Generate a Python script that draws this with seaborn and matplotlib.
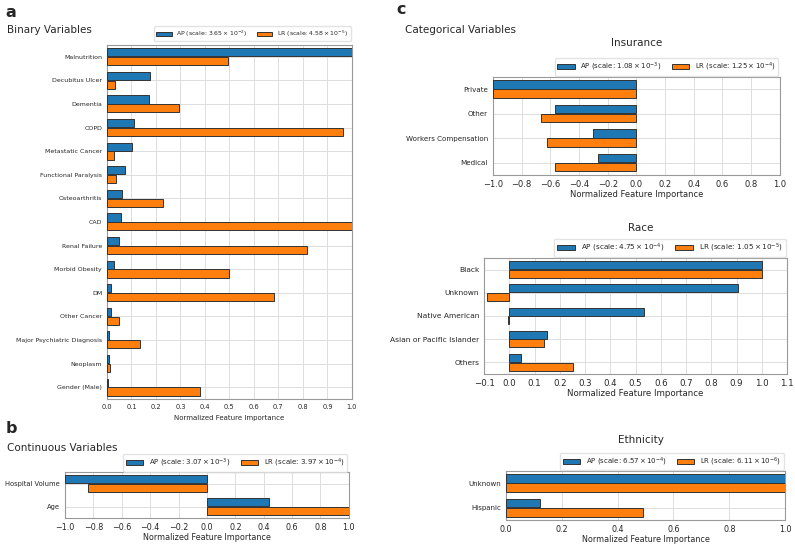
import seaborn as sns
import matplotlib.pyplot as plt
import pandas as pd

# panel a: binary variables
binary_vars = ["Malnutrition", "Decubitus Ulcer", "Dementia", "COPD", "Metastatic Cancer",
               "Functional Paralysis", "Osteoarthritis", "CAD", "Renal Failure", "Morbid Obesity",
               "DM", "Other Cancer", "Major Psychiatric Diagnosis", "Neoplasm", "Gender (Male)"]
binary_ap = [1.0, 0.175, 0.17, 0.11, 0.103, 0.074, 0.062, 0.058, 0.05, 0.027,
             0.017, 0.015, 0.01, 0.007, 0.005]
binary_lr = [0.495, 0.033, 0.293, 0.963, 0.03, 0.037, 0.228, 1.0, 0.817, 0.497,
             0.68, 0.05, 0.136, 0.013, 0.38]
binary_scales = ["3.65 \\times 10^{-2}", "4.58 \\times 10^{-5}"]

# panel b: continuous variables
cont_vars = ["Hospital Volume", "Age"]
cont_ap = [-1.0, 0.435]
cont_lr = [-0.835, 1.0]
cont_scales = ["3.07 \\times 10^{-3}", "3.97 \\times 10^{-4}"]

# panel c: categorical variables
ins_vars = ["Private", "Other", "Workers Compensation", "Medical"]
ins_ap = [-1.0, -0.565, -0.305, -0.27]
ins_lr = [-1.0, -0.665, -0.625, -0.565]
ins_scales = ["1.08 \\times 10^{-3}", "1.25 \\times 10^{-4}"]

race_vars = ["Black", "Unknown", "Native American", "Asian or Pacific Islander", "Others"]
race_ap = [1.0, 0.905, 0.535, 0.148, 0.045]
race_lr = [1.0, -0.087, -0.005, 0.138, 0.253]
race_scales = ["4.75 \\times 10^{-4}", "1.05 \\times 10^{-5}"]

eth_vars = ["Unknown", "Hispanic"]
eth_ap = [1.0, 0.12]
eth_lr = [1.0, 0.49]
eth_scales = ["6.57 \\times 10^{-4}", "6.11 \\times 10^{-6}"]

sns.set_style("white")
plt.rcParams["font.family"] = ["DejaVu Sans"]


def draw(ax, names, ap, lr, scales, xlim, xticks, fs_x, fs_y, fs_leg, fs_lab, labpad=1):
    lab_ap = "AP (scale: $" + scales[0] + "$)"
    lab_lr = "LR (scale: $" + scales[1] + "$)"
    df = pd.DataFrame({
        "feature": names + names,
        "importance": ap + lr,
        "model": [lab_ap] * len(names) + [lab_lr] * len(names),
    })
    sns.barplot(data=df, y="feature", x="importance", hue="model", orient="h",
                palette=["#1f77b4", "#ff7f0e"], saturation=1, edgecolor="#333333",
                linewidth=0.7, width=0.74, gap=0.06, ax=ax, zorder=3)
    ax.set_xlim(xlim)
    ax.set_xticks(xticks)
    ax.set_xticklabels([("%.1f" % t).replace("-", "\u2212") for t in xticks], fontsize=fs_x)
    ax.tick_params(axis="y", labelsize=fs_y, length=2, width=0.5, pad=1.5)
    ax.tick_params(axis="x", length=2, width=0.5, pad=1.5)
    ax.grid(True, color="#dddddd", linewidth=0.7, zorder=0)
    ax.set_axisbelow(True)
    for s in ax.spines.values():
        s.set_color("#999999")
        s.set_linewidth(0.8)
    ax.set_ylabel("")
    ax.set_xlabel("Normalized Feature Importance", fontsize=fs_lab, labelpad=labpad)
    ax.legend(ncol=2, loc="lower right", bbox_to_anchor=(0.995, 1.01), fontsize=fs_leg,
              frameon=True, edgecolor="#dddddd", borderaxespad=0, handlelength=2.5,
              columnspacing=1.5, fancybox=True)


fig = plt.figure(figsize=(7.95, 5.45), dpi=100)

ax_a = fig.add_axes([0.1346, 0.268, 0.308, 0.6495])
draw(ax_a, binary_vars, binary_ap, binary_lr, binary_scales, (0, 1.0),
     [i / 10 for i in range(11)], 4.8, 4.5, 4.4, 5.0, labpad=4)

ax_b = fig.add_axes([0.0818, 0.0495, 0.357, 0.0844])
draw(ax_b, cont_vars, cont_ap, cont_lr, cont_scales, (-1.0, 1.0),
     [-1.0, -0.8, -0.6, -0.4, -0.2, 0.0, 0.2, 0.4, 0.6, 0.8, 1.0], 5.8, 4.9, 5.0, 5.8)

ax_ins = fig.add_axes([0.620, 0.679, 0.361, 0.18])
draw(ax_ins, ins_vars, ins_ap, ins_lr, ins_scales, (-1.0, 1.0),
     [-1.0, -0.8, -0.6, -0.4, -0.2, 0.0, 0.2, 0.4, 0.6, 0.8, 1.0], 6.0, 5.1, 5.0, 6.0)

ax_race = fig.add_axes([0.609, 0.3138, 0.381, 0.213])
draw(ax_race, race_vars, race_ap, race_lr, race_scales, (-0.1, 1.1),
     [i / 10 for i in range(-1, 12)], 6.2, 5.4, 5.2, 6.2)

ax_eth = fig.add_axes([0.6365, 0.0459, 0.351, 0.09])
draw(ax_eth, eth_vars, eth_ap, eth_lr, eth_scales, (0, 1.0),
     [0.0, 0.2, 0.4, 0.6, 0.8, 1.0], 5.8, 5.0, 5.0, 5.8)

# panel letters and headings
fig.text(0.007, 0.99, "a", fontsize=11.5, fontweight="bold", va="top")
fig.text(0.009, 0.945, "Binary Variables", fontsize=7.5, va="center")
fig.text(0.007, 0.228, "b", fontsize=11.5, fontweight="bold", va="top")
fig.text(0.009, 0.178, "Continuous Variables", fontsize=7.5, va="center")
fig.text(0.498, 0.997, "c", fontsize=11.5, fontweight="bold", va="top")
fig.text(0.509, 0.945, "Categorical Variables", fontsize=7.5, va="center")
fig.text(0.801, 0.921, "Insurance", fontsize=7.5, ha="center", va="center")
fig.text(0.806, 0.582, "Race", fontsize=7.5, ha="center", va="center")
fig.text(0.806, 0.193, "Ethnicity", fontsize=7.5, ha="center", va="center")

plt.savefig("out.png", dpi=100)
